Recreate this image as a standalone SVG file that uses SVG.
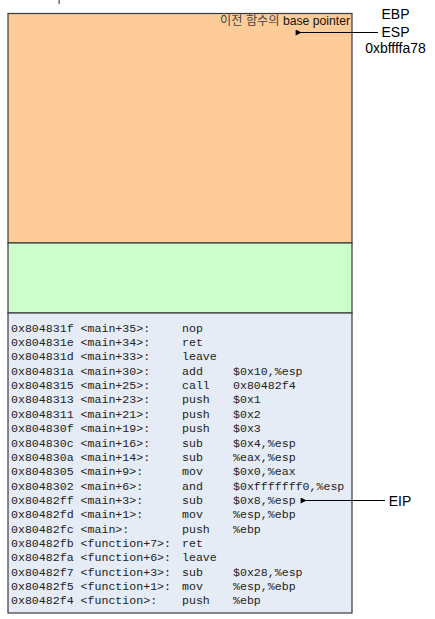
<svg xmlns="http://www.w3.org/2000/svg" width="435" height="619" viewBox="0 0 435 619">
<defs>
<style>
.blk{stroke:#3a3a3a;stroke-width:1.2}
.lbl{font-family:"Liberation Sans","Noto Sans CJK KR",Arial,sans-serif;fill:#111}
.reg{font-family:"Liberation Sans",Arial,sans-serif;font-size:14px;fill:#000;text-anchor:middle}
.code{font-family:"Liberation Mono","Courier New",monospace;font-size:11.6px;fill:#222}
.conn{stroke:#000;stroke-width:1;fill:none}
</style>
<marker id="ah" viewBox="0 0 10 10" refX="1" refY="5" markerWidth="8" markerHeight="6" orient="auto-start-reverse" markerUnits="userSpaceOnUse">
<path d="M0,5 L10,0 L10,10 Z" fill="#000"/>
</marker>
</defs>
<rect x="58.5" y="0" width="1.2" height="4" fill="#3a4a6a"/>
<g id="stack-prev">
<rect class="blk" x="8" y="13.5" width="344" height="229.5" fill="#FECC99"/>
<text class="lbl" x="350" y="25" font-size="12.2" text-anchor="end"><tspan fill="#444">이전 함수의</tspan> base pointer</text>
</g>
<g id="stack-green">
<rect class="blk" x="8" y="243" width="344" height="70" fill="#CCFFCC"/>
</g>
<g id="code">
<rect class="blk" x="8" y="313" width="344" height="300" fill="#E6ECF6"/>
<g class="code">
<text x="11" y="331.7">0x804831f &lt;main+35&gt;:</text><text x="182" y="331.7">nop</text>
<text x="11" y="346.05">0x804831e &lt;main+34&gt;:</text><text x="182" y="346.05">ret</text>
<text x="11" y="360.4">0x804831d &lt;main+33&gt;:</text><text x="182" y="360.4">leave</text>
<text x="11" y="374.75">0x804831a &lt;main+30&gt;:</text><text x="182" y="374.75">add</text><text x="233" y="374.75">$0x10,%esp</text>
<text x="11" y="389.1">0x8048315 &lt;main+25&gt;:</text><text x="182" y="389.1">call</text><text x="233" y="389.1">0x80482f4</text>
<text x="11" y="403.45">0x8048313 &lt;main+23&gt;:</text><text x="182" y="403.45">push</text><text x="233" y="403.45">$0x1</text>
<text x="11" y="417.8">0x8048311 &lt;main+21&gt;:</text><text x="182" y="417.8">push</text><text x="233" y="417.8">$0x2</text>
<text x="11" y="432.15">0x804830f &lt;main+19&gt;:</text><text x="182" y="432.15">push</text><text x="233" y="432.15">$0x3</text>
<text x="11" y="446.5">0x804830c &lt;main+16&gt;:</text><text x="182" y="446.5">sub</text><text x="233" y="446.5">$0x4,%esp</text>
<text x="11" y="460.85">0x804830a &lt;main+14&gt;:</text><text x="182" y="460.85">sub</text><text x="233" y="460.85">%eax,%esp</text>
<text x="11" y="475.2">0x8048305 &lt;main+9&gt;:</text><text x="182" y="475.2">mov</text><text x="233" y="475.2">$0x0,%eax</text>
<text x="11" y="489.55">0x8048302 &lt;main+6&gt;:</text><text x="182" y="489.55">and</text><text x="233" y="489.55">$0xfffffff0,%esp</text>
<text x="11" y="503.9">0x80482ff &lt;main+3&gt;:</text><text x="182" y="503.9">sub</text><text x="233" y="503.9">$0x8,%esp</text>
<text x="11" y="518.25">0x80482fd &lt;main+1&gt;:</text><text x="182" y="518.25">mov</text><text x="233" y="518.25">%esp,%ebp</text>
<text x="11" y="532.6">0x80482fc &lt;main&gt;:</text><text x="182" y="532.6">push</text><text x="233" y="532.6">%ebp</text>
<text x="11" y="546.95">0x80482fb &lt;function+7&gt;:</text><text x="182" y="546.95">ret</text>
<text x="11" y="561.3">0x80482fa &lt;function+6&gt;:</text><text x="182" y="561.3">leave</text>
<text x="11" y="575.65">0x80482f7 &lt;function+3&gt;:</text><text x="182" y="575.65">sub</text><text x="233" y="575.65">$0x28,%esp</text>
<text x="11" y="590">0x80482f5 &lt;function+1&gt;:</text><text x="182" y="590">mov</text><text x="233" y="590">%esp,%ebp</text>
<text x="11" y="604.35">0x80482f4 &lt;function&gt;:</text><text x="182" y="604.35">push</text><text x="233" y="604.35">%ebp</text>
</g>
</g>
<g id="reg-esp">
<text class="reg" x="395.5" y="19">EBP</text>
<text class="reg" x="395.5" y="37">ESP</text>
<text class="reg" x="395.5" y="53">0xbffffa78</text>
</g>
<g id="reg-eip">
<text class="reg" x="400" y="506">EIP</text>
</g>
<g id="connectors">
<line class="conn" x1="378" y1="32.5" x2="301" y2="32.5" marker-end="url(#ah)"/>
<line class="conn" x1="385" y1="500.5" x2="306" y2="500.5" marker-end="url(#ah)"/>
</g>
</svg>
